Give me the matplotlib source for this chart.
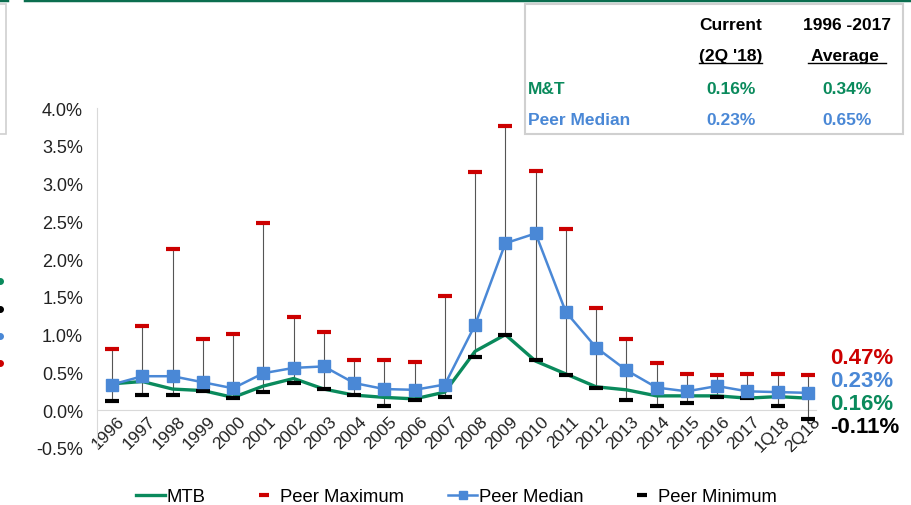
import matplotlib
matplotlib.use("Agg")
import matplotlib.pyplot as plt
from matplotlib.lines import Line2D
from matplotlib.patches import Rectangle
import matplotlib.transforms as mtransforms
import numpy as np

plt.rcParams['font.family'] = ['Liberation Sans', 'DejaVu Sans']

categories = ['1996', '1997', '1998', '1999', '2000', '2001', '2002', '2003', '2004', '2005',
              '2006', '2007', '2008', '2009', '2010', '2011', '2012', '2013', '2014', '2015',
              '2016', '2017', '1Q18', '2Q18']
peer_max = [0.81, 1.11, 2.13, 0.94, 1.01, 2.48, 1.23, 1.03, 0.66, 0.66, 0.64, 1.51, 3.15, 3.76,
            3.17, 2.40, 1.35, 0.94, 0.62, 0.48, 0.46, 0.48, 0.48, 0.47]
peer_median = [0.34, 0.45, 0.45, 0.37, 0.29, 0.49, 0.56, 0.58, 0.36, 0.28, 0.27, 0.34, 1.13, 2.21,
               2.34, 1.30, 0.83, 0.53, 0.30, 0.25, 0.32, 0.25, 0.24, 0.23]
mtb = [0.35, 0.38, 0.28, 0.26, 0.17, 0.32, 0.42, 0.28, 0.20, 0.17, 0.15, 0.24, 0.78, 1.00,
       0.65, 0.48, 0.31, 0.27, 0.19, 0.19, 0.19, 0.16, 0.18, 0.16]
peer_min = [0.12, 0.20, 0.20, 0.25, 0.16, 0.24, 0.36, 0.28, 0.20, 0.06, 0.14, 0.17, 0.71, 1.00,
            0.66, 0.47, 0.29, 0.14, 0.05, 0.10, 0.17, 0.16, 0.05, -0.11]
yticks = [-0.5, 0.0, 0.5, 1.0, 1.5, 2.0, 2.5, 3.0, 3.5, 4.0]

table_header = [["Current", "(2Q '18)"], ["1996 -2017", "Average "]]
table_rows = [["M&T", "0.16%", "0.34%"], ["Peer Median", "0.23%", "0.65%"]]
end_labels = ["0.47%", "0.23%", "0.16%", "-0.11%"]

GREEN = '#0a8a5c'
BLUE = '#4a88d6'
RED = '#cc0000'
BLACK = '#000000'

W, H = 911, 506
fig = plt.figure(figsize=(W / 100, H / 100), dpi=100)
ax = fig.add_axes([97 / W, 1 - 449 / H, (816 - 97) / W, (449 - 109) / H])

x = np.arange(len(categories))

for s in ['top', 'right']:
    ax.spines[s].set_visible(False)
ax.spines['bottom'].set_position(('data', 0))
ax.spines['bottom'].set_color('#d9d9d9')
ax.spines['left'].set_color('#d9d9d9')
ax.spines['bottom'].set_zorder(0)

# high-low lines
ax.vlines(x, peer_min, peer_max, color='#555555', lw=0.8, zorder=1)
ax.plot(x, mtb, color=GREEN, lw=2.4, zorder=3, label='MTB')
ax.plot(x, peer_max, ls='none', marker='_', ms=9.5, mew=3, color=RED, zorder=4, label='Peer Maximum')
ax.plot(x, peer_median, color=BLUE, lw=1.8, marker='s', ms=8, zorder=5, label='Peer Median')
ax.plot(x, peer_min, ls='none', marker='_', ms=9.5, mew=3, color=BLACK, zorder=4, label='Peer Minimum')

ax.set_xlim(-0.5, 23.27)
ax.set_ylim(-0.5, 4.0)
ax.tick_params(axis='both', length=0)
ax.tick_params(axis='y', pad=10)
ax.tick_params(axis='x', pad=2)
ax.set_yticks(yticks)
ax.set_yticklabels([f"{v:.1f}%" for v in yticks], fontsize=13, color='#222222')
ax.set_xticks(x)
ax.set_xticklabels(categories, fontsize=12.5, color='#222222', rotation=45, ha='right',
                   va='top', rotation_mode='anchor')
offset = mtransforms.ScaledTranslation(5 / 100, 0, fig.dpi_scale_trans)
for lab in ax.get_xticklabels():
    lab.set_transform(lab.get_transform() + offset)

leg = ax.legend(loc='upper center', bbox_to_anchor=(0.5, -0.07), ncol=4, frameon=False,
                fontsize=13.3, handlelength=1.55, columnspacing=2.4, handletextpad=0.1,
                markerscale=0.8)

# end labels
end_colors = [RED, BLUE, GREEN, BLACK]
end_y = [358, 382, 405, 428]
for t, c, yy in zip(end_labels, end_colors, end_y):
    fig.text(830 / W, 1 - yy / H, t, color=c, fontsize=16, fontweight='bold', ha='left', va='center')

# decorations: top green line, boxes
fig.add_artist(Line2D([25 / W, 1], [1 - 1 / H, 1 - 1 / H], color='#0b6e4f', lw=2.5))
fig.add_artist(Line2D([0, 7 / W], [1 - 1 / H, 1 - 1 / H], color='#0b6e4f', lw=2.5))
fig.add_artist(Rectangle((-10 / W, 1 - 135 / H), 16 / W, 130 / H, fill=False, ec='#d0d0d0', lw=1.2))
for yy, c in zip([282, 310, 337, 364], [GREEN, BLACK, BLUE, RED]):
    fig.add_artist(Line2D([0], [1 - yy / H], marker='o', ms=4, color=c, ls='none'))

# table
fig.add_artist(Rectangle((525 / W, 1 - 135 / H), (903 - 525) / W, 130 / H, fill=False, ec='#d0d0d0', lw=1.5))
col_x = [731, 847]
for cx, (h1, h2) in zip(col_x, table_header):
    fig.text(cx / W, 1 - 25 / H, h1, fontsize=12.5, fontweight='bold', ha='center', va='center', color='black')
    fig.text(cx / W, 1 - 57 / H, h2, fontsize=12.5, fontweight='bold', ha='center', va='center', color='black')
fig.add_artist(Line2D([699 / W, 762 / W], [1 - 64 / H, 1 - 64 / H], color='black', lw=1))
fig.add_artist(Line2D([808 / W, 886 / W], [1 - 64 / H, 1 - 64 / H], color='black', lw=1))
for (lab, v1, v2), yy, c in zip(table_rows, [89, 121], [GREEN, BLUE]):
    fig.text(528 / W, 1 - yy / H, lab, fontsize=12.5, fontweight='bold', ha='left', va='center', color=c)
    fig.text(col_x[0] / W, 1 - yy / H, v1, fontsize=12.5, fontweight='bold', ha='center', va='center', color=c)
    fig.text(col_x[1] / W, 1 - yy / H, v2, fontsize=12.5, fontweight='bold', ha='center', va='center', color=c)

fig.savefig('out.png', dpi=100)
